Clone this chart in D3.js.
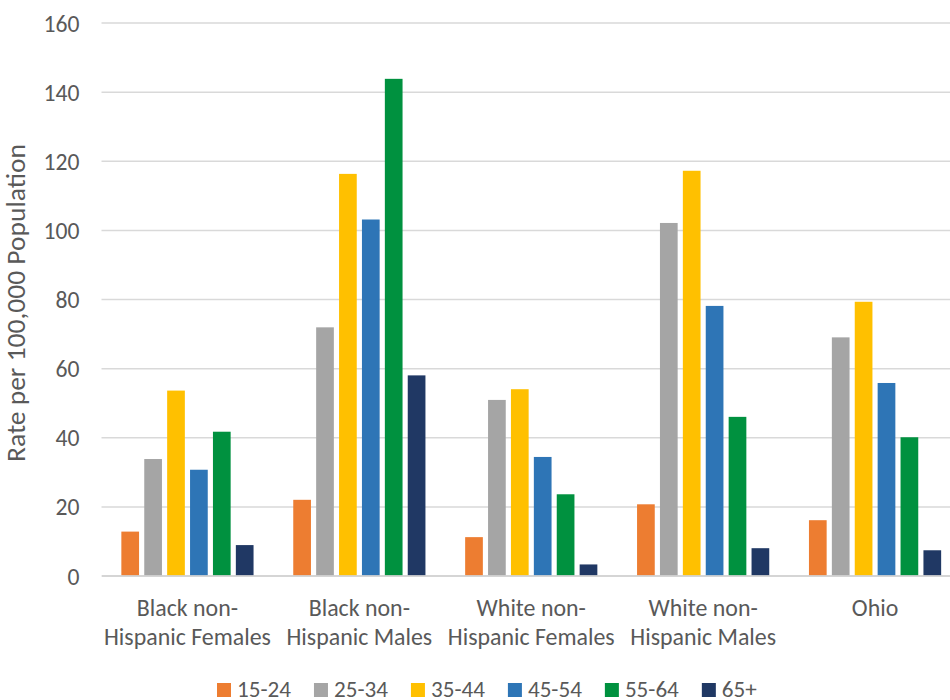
<!DOCTYPE html>
<html>
<head>
<meta charset="utf-8">
<script src="https://cdn.jsdelivr.net/npm/d3@7"></script>
<style>
  html, body { margin: 0; padding: 0; background: #fff; }
  svg { display: block; }
  text { font-family: Calibri, Carlito, "Open Sans", sans-serif; fill: #595959; }
</style>
</head>
<body>
<svg id="chart" width="950" height="700"></svg>
<script>
// Age-specific rates by population group
const groups = [
  ["Black non-", "Hispanic Females"],
  ["Black non-", "Hispanic Males"],
  ["White non-", "Hispanic Females"],
  ["White non-", "Hispanic Males"],
  ["Ohio"]
];
const ageBands = ["15-24", "25-34", "35-44", "45-54", "55-64", "65+"];
const bandColors = ["#ED7D31", "#A5A5A5", "#FFC000", "#2E75B6", "#00913F", "#203864"];

// one array per age band, values in group order
const rates15to24 = [12.7, 21.9, 11.1, 20.6, 16.0];
const rates25to34 = [33.7, 71.8, 50.8, 102.0, 68.9];
const rates35to44 = [53.5, 116.2, 53.9, 117.1, 79.2];
const rates45to54 = [30.6, 103.0, 34.3, 78.0, 55.7];
const rates55to64 = [41.6, 143.7, 23.5, 45.9, 40.0];
const rates65plus = [8.8, 57.9, 3.2, 7.9, 7.3];
const seriesValues = [rates15to24, rates25to34, rates35to44, rates45to54, rates55to64, rates65plus];

const yTicks = [0, 20, 40, 60, 80, 100, 120, 140, 160];
const yTitle = "Rate per 100,000 Population";

const svg = d3.select("#chart");
const groupKeys = groups.map(g => g.join(" "));

// pick a font size so that a sample string spans the wanted width
function fitSize(sample, width) {
  const probe = svg.append("text").attr("font-size", 20).text(sample);
  const w = probe.node().getComputedTextLength();
  probe.remove();
  return 20 * width / w;
}
const tickSize = fitSize("160", 36);
const catSize = fitSize("Hispanic Females", 167);
const legendSize = fitSize("15-24", 54);
const titleSize = fitSize(yTitle, 318);

const x0 = d3.scaleBand().domain(groupKeys).range([101.5, 961]).paddingInner(0).paddingOuter(0);
const x1 = d3.scaleBand().domain(ageBands).range([0, x0.bandwidth()]).paddingInner(0.227).paddingOuter(0.867);
const y = d3.scaleLinear().domain([0, 160]).range([575.5, 22.5]);

// horizontal gridlines and tick labels
const yAxis = d3.axisLeft(y).tickValues(yTicks).tickSize(-(961 - 101.5)).tickPadding(22);
const gy = svg.append("g").attr("transform", "translate(101.5,0)").call(yAxis);
gy.select(".domain").remove();
gy.selectAll(".tick line").attr("stroke", "#d9d9d9").attr("stroke-width", 1.5);
gy.selectAll(".tick text").attr("font-size", tickSize).attr("fill", "#595959")
  .attr("dy", "0.36em")
  .style("font-family", "Calibri, Carlito, 'Open Sans', sans-serif");

// bars
const cells = [];
groupKeys.forEach((g, gi) => {
  ageBands.forEach((a, ai) => cells.push({ group: g, band: a, value: seriesValues[ai][gi], color: bandColors[ai] }));
});
svg.append("g").selectAll("rect").data(cells).join("rect")
  .attr("x", d => x0(d.group) + x1(d.band))
  .attr("width", x1.bandwidth())
  .attr("y", d => y(d.value))
  .attr("height", d => y(0) - y(d.value))
  .attr("fill", d => d.color);

// baseline axis
const xAxis = d3.axisBottom(x0).tickSize(0).tickFormat("");
const gx = svg.append("g").attr("transform", `translate(0,${y(0)})`).call(xAxis);
gx.select(".domain").attr("stroke", "#d0d0d0").attr("stroke-width", 1.5);

// two-line category labels
const labelG = svg.append("g");
groups.forEach((lines, i) => {
  const cx = x0(groupKeys[i]) + x0.bandwidth() / 2;
  const t = labelG.append("text")
    .attr("x", cx)
    .attr("y", 616)
    .attr("text-anchor", "middle")
    .attr("font-size", catSize);
  lines.forEach((ln, j) => t.append("tspan")
    .attr("x", cx)
    .attr("dy", j === 0 ? 0 : 29)
    .text(ln));
});

// y axis title
svg.append("text")
  .attr("transform", "translate(25,303) rotate(-90)")
  .attr("text-anchor", "middle")
  .attr("font-size", titleSize)
  .text(yTitle);

// legend
const legend = svg.append("g");
let lx = 217;
ageBands.forEach((a, i) => {
  legend.append("rect").attr("x", lx).attr("y", 683).attr("width", 14).attr("height", 14).attr("fill", bandColors[i]);
  const t = legend.append("text").attr("x", lx + 20).attr("y", 696.5).attr("font-size", legendSize).text(a);
  lx += 20 + t.node().getComputedTextLength() + 23;
});
</script>
</body>
</html>
